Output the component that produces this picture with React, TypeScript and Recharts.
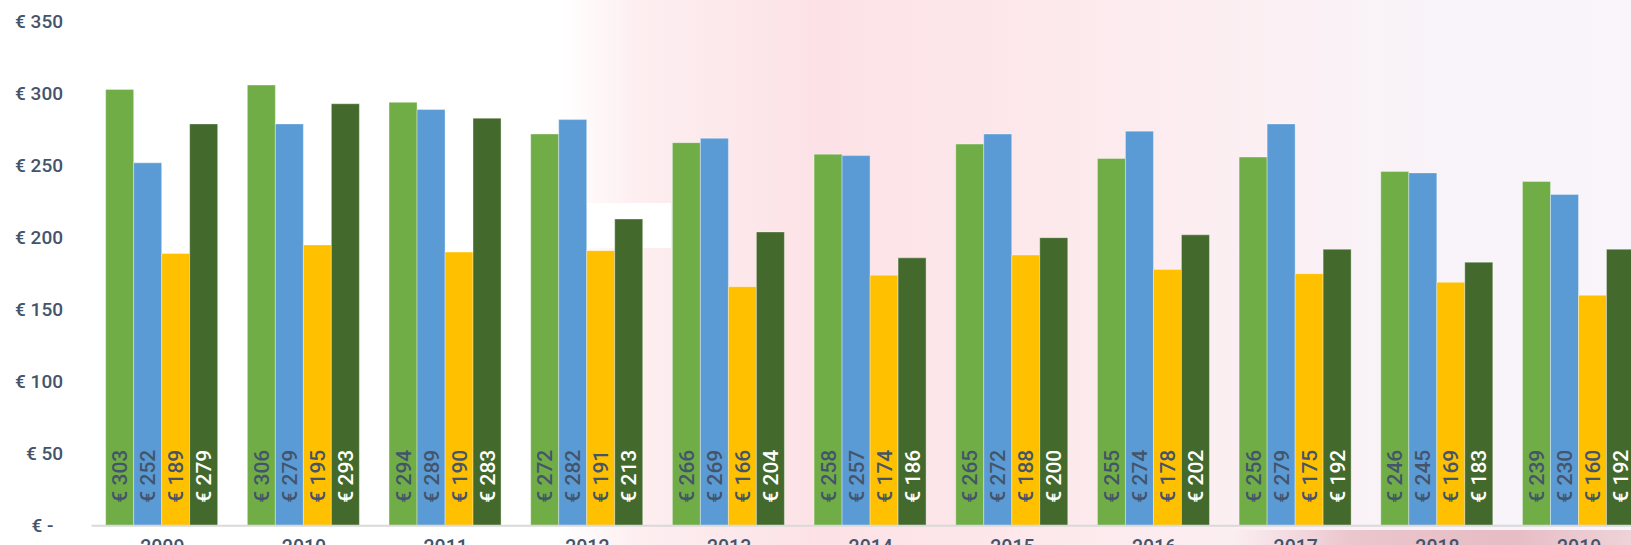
import { Bar, BarChart, LabelList, XAxis, YAxis } from "recharts";

const YEARS = ["2009", "2010", "2011", "2012", "2013", "2014", "2015", "2016", "2017", "2018", "2019"];
const SERIES_1 = [303, 306, 294, 272, 266, 258, 265, 255, 256, 246, 239];
const SERIES_2 = [252, 279, 289, 282, 269, 257, 272, 274, 279, 245, 230];
const SERIES_3 = [189, 195, 190, 191, 166, 174, 188, 178, 175, 169, 160];
const SERIES_4 = [279, 293, 283, 213, 204, 186, 200, 202, 192, 183, 192];
const Y_TICKS = [0, 50, 100, 150, 200, 250, 300, 350];

const FONT = "Roboto, 'DejaVu Sans', sans-serif";
const SLATE = "#44546A";

const SERIES = [
  { key: "s1", color: "#70AD47", label: SLATE },
  { key: "s2", color: "#5B9BD5", label: SLATE },
  { key: "s3", color: "#FFC000", label: SLATE },
  { key: "s4", color: "#436A2C", label: "#FFFFFF" },
];

const data = YEARS.map((year, i) => ({
  year,
  s1: SERIES_1[i],
  s2: SERIES_2[i],
  s3: SERIES_3[i],
  s4: SERIES_4[i],
}));

function makeLabel(fill: string) {
  return (props: any) => {
    const { x, y, width, height, value } = props;
    const cx = Number(x) + Number(width) / 2;
    const by = Number(y) + Number(height) - 23;
    return (
      <text
        x={cx}
        y={by}
        dy="0.36em"
        transform={`rotate(-90 ${cx} ${by})`}
        textAnchor="start"
        fill={fill}
        fontSize={21}
        fontWeight={500}
        fontFamily={FONT}
      >
        {`€ ${value}`}
      </text>
    );
  };
}

const formatY = (v: number) => (v === 0 ? "€ -\u00A0\u00A0" : `€ ${v}`);

export default function App() {
  return (
    <div
      style={{
        position: "fixed",
        left: 0,
        top: 0,
        width: 1631,
        height: 545,
        overflow: "hidden",
        background:
          "linear-gradient(90deg, #ffffff 0px, #ffffff 560px, #fdeef0 640px, #fce2e6 820px, #fde7ea 1000px, #fcedf0 1180px, #f9f3f8 1400px, #f8f5fb 1631px)",
      }}
    >
      {/* white patch near 2012 and the darker pink strip under the axis */}
      <div style={{ position: "absolute", left: 560, top: 203, width: 111, height: 45, background: "#ffffff" }} />
      <div
        style={{
          position: "absolute",
          left: 1230,
          top: 530,
          width: 401,
          height: 15,
          background: "linear-gradient(90deg, rgba(232,190,200,0) 0%, #ebc6cd 30%, #e6bcc5 70%, #eed3d8 100%)",
        }}
      />
      <BarChart
        width={1650}
        height={566}
        data={data}
        margin={{ top: 21.7, right: 0, bottom: 0, left: 0 }}
        barCategoryGap="10%"
        barGap={0}
        style={{ position: "absolute", left: 0, top: 0 }}
      >
        <XAxis
          dataKey="year"
          height={40.3}
          axisLine={{ stroke: "#D9D9D9", strokeWidth: 2 }}
          tickLine={false}
          tickMargin={8}
          tick={{ fill: SLATE, fontSize: 19.5, fontWeight: 500, fontFamily: FONT }}
        />
        <YAxis
          width={91.5}
          domain={[0, 350]}
          ticks={Y_TICKS}
          axisLine={false}
          tickLine={false}
          tickSize={0}
          tickMargin={28.5}
          tickFormatter={formatY}
          tick={{ fill: SLATE, fontSize: 19, fontWeight: 500, fontFamily: FONT }}
        />
        {SERIES.map((s) => (
          <Bar
            key={s.key}
            dataKey={s.key}
            fill={s.color}
            stroke="#ffffff"
            strokeOpacity={0.35}
            strokeWidth={1}
            isAnimationActive={false}
          >
            <LabelList dataKey={s.key} content={makeLabel(s.label)} />
          </Bar>
        ))}
      </BarChart>
    </div>
  );
}
